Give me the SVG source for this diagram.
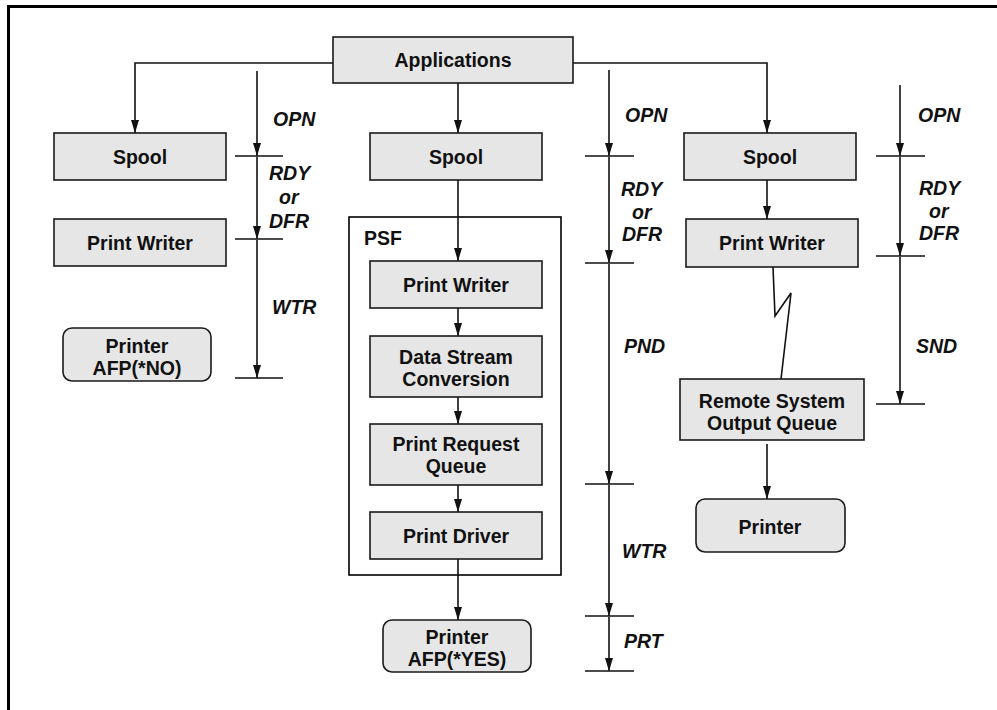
<svg xmlns="http://www.w3.org/2000/svg" width="997" height="710" viewBox="0 0 997 710">
<style>
.box{fill:#e6e6e6;stroke:#1a1a1a;stroke-width:1.6}
.frame{fill:none;stroke:#000;stroke-width:1.6}
.t{font-family:"Liberation Sans",Arial,sans-serif;font-weight:bold;font-size:19.5px;fill:#111;text-anchor:middle}
.lb{font-family:"Liberation Sans",Arial,sans-serif;font-weight:bold;font-style:italic;font-size:19.5px;fill:#111}
.ln{fill:none;stroke:#111;stroke-width:1.6}
.tick{stroke:#111;stroke-width:1.6}
</style>
<defs>
<marker id="ah" markerUnits="userSpaceOnUse" markerWidth="14" markerHeight="10" viewBox="0 0 14 10" refX="13" refY="5" orient="auto">
<path d="M0,1 L13,5 L0,9 Z" fill="#111"/>
</marker>
</defs>
<rect width="997" height="710" fill="#fff"/>
<path d="M8.5,710 V6.5 H997" fill="none" stroke="#000" stroke-width="3"/>

<g id="psf"><rect class="frame" x="349" y="217" width="212" height="358"/><text class="t" x="383" y="245">PSF</text></g>

<g id="connectors">
<path class="ln" d="M333,63 H135 V133" marker-end="url(#ah)"/>
<path class="ln" d="M458,83 V133" marker-end="url(#ah)"/>
<path class="ln" d="M573,63 H767 V133" marker-end="url(#ah)"/>
<path class="ln" d="M458,180 V261" marker-end="url(#ah)"/>
<path class="ln" d="M458,308 V336" marker-end="url(#ah)"/>
<path class="ln" d="M458,397 V424" marker-end="url(#ah)"/>
<path class="ln" d="M458,485 V512" marker-end="url(#ah)"/>
<path class="ln" d="M458,559 V620" marker-end="url(#ah)"/>
<path class="ln" d="M767,180 V219" marker-end="url(#ah)"/>
<path class="ln" d="M773,267 L775,316 L791,293 L781,379"/>
<path class="ln" d="M767,444 V499" marker-end="url(#ah)"/>
</g>

<g id="timeline-left">
<path class="ln" d="M257,71 V156" marker-end="url(#ah)"/>
<path class="ln" d="M257,157 V239" marker-end="url(#ah)"/>
<path class="ln" d="M257,240 V378" marker-end="url(#ah)"/>
<line class="tick" x1="235" y1="156" x2="283" y2="156"/>
<line class="tick" x1="235" y1="239" x2="283" y2="239"/>
<line class="tick" x1="235" y1="378" x2="283" y2="378"/>
<text class="lb" x="273" y="126">OPN</text>
<text class="lb" x="269" y="180">RDY</text>
<text class="lb" x="279" y="204">or</text>
<text class="lb" x="269" y="228">DFR</text>
<text class="lb" x="272" y="314">WTR</text>
</g>

<g id="timeline-middle">
<path class="ln" d="M609,70 V156" marker-end="url(#ah)"/>
<path class="ln" d="M609,157 V263" marker-end="url(#ah)"/>
<path class="ln" d="M609,264 V484" marker-end="url(#ah)"/>
<path class="ln" d="M609,485 V616" marker-end="url(#ah)"/>
<path class="ln" d="M609,617 V671" marker-end="url(#ah)"/>
<line class="tick" x1="585" y1="156" x2="634" y2="156"/>
<line class="tick" x1="585" y1="263" x2="634" y2="263"/>
<line class="tick" x1="585" y1="484" x2="634" y2="484"/>
<line class="tick" x1="585" y1="616" x2="634" y2="616"/>
<line class="tick" x1="585" y1="671" x2="634" y2="671"/>
<text class="lb" x="625" y="122">OPN</text>
<text class="lb" x="621" y="196">RDY</text>
<text class="lb" x="632" y="219">or</text>
<text class="lb" x="622" y="241">DFR</text>
<text class="lb" x="624" y="353">PND</text>
<text class="lb" x="622" y="558">WTR</text>
<text class="lb" x="624" y="648">PRT</text>
</g>

<g id="timeline-right">
<path class="ln" d="M900,85 V156" marker-end="url(#ah)"/>
<path class="ln" d="M900,157 V256" marker-end="url(#ah)"/>
<path class="ln" d="M900,257 V404" marker-end="url(#ah)"/>
<line class="tick" x1="876" y1="156" x2="925" y2="156"/>
<line class="tick" x1="876" y1="256" x2="925" y2="256"/>
<line class="tick" x1="876" y1="404" x2="925" y2="404"/>
<text class="lb" x="918" y="122">OPN</text>
<text class="lb" x="919" y="195">RDY</text>
<text class="lb" x="929" y="218">or</text>
<text class="lb" x="919" y="240">DFR</text>
<text class="lb" x="916" y="353">SND</text>
</g>

<g id="applications"><rect class="box" x="333" y="37" width="240" height="46"/><text class="t" x="453" y="67">Applications</text></g>

<g id="spool-left"><rect class="box" x="54" y="133" width="172" height="47"/><text class="t" x="140" y="164">Spool</text></g>
<g id="printwriter-left"><rect class="box" x="54" y="219" width="172" height="47"/><text class="t" x="140" y="250">Print Writer</text></g>
<g id="printer-no"><rect class="box" x="63" y="328" width="148" height="53" rx="9"/><text class="t" x="137" y="353">Printer</text><text class="t" x="137" y="375">AFP(*NO)</text></g>

<g id="spool-middle"><rect class="box" x="370" y="133" width="172" height="47"/><text class="t" x="456" y="164">Spool</text></g>
<g id="printwriter-psf"><rect class="box" x="370" y="261" width="172" height="47"/><text class="t" x="456" y="292">Print Writer</text></g>
<g id="dsc"><rect class="box" x="370" y="336" width="172" height="61"/><text class="t" x="456" y="364">Data Stream</text><text class="t" x="456" y="386">Conversion</text></g>
<g id="prq"><rect class="box" x="370" y="424" width="172" height="61"/><text class="t" x="456" y="451">Print Request</text><text class="t" x="456" y="473">Queue</text></g>
<g id="printdriver"><rect class="box" x="370" y="512" width="172" height="47"/><text class="t" x="456" y="543">Print Driver</text></g>
<g id="printer-yes"><rect class="box" x="383" y="620" width="148" height="52" rx="9"/><text class="t" x="457" y="644">Printer</text><text class="t" x="457" y="666">AFP(*YES)</text></g>

<g id="spool-right"><rect class="box" x="684" y="133" width="172" height="47"/><text class="t" x="770" y="164">Spool</text></g>
<g id="printwriter-right"><rect class="box" x="686" y="219" width="172" height="48"/><text class="t" x="772" y="250">Print Writer</text></g>
<g id="remote"><rect class="box" x="680" y="379" width="184" height="61"/><text class="t" x="772" y="408">Remote System</text><text class="t" x="772" y="430">Output Queue</text></g>
<g id="printer-right"><rect class="box" x="696" y="499" width="149" height="53" rx="9"/><text class="t" x="770" y="534">Printer</text></g>
</svg>
